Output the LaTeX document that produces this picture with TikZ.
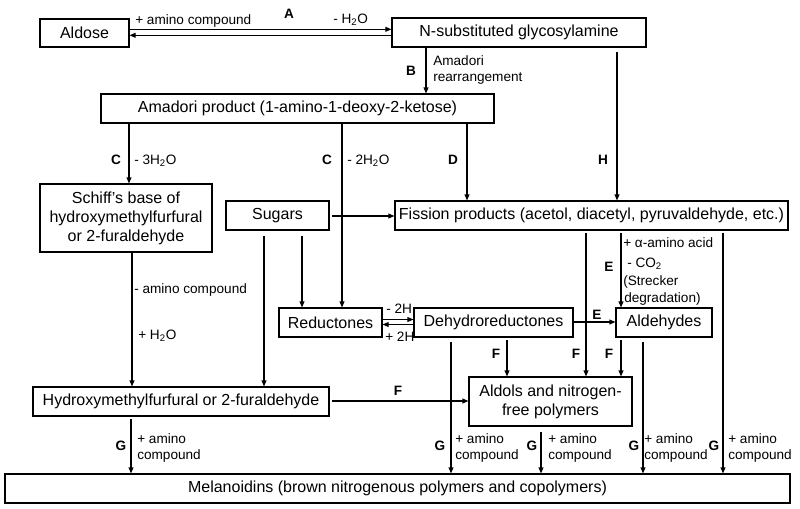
\documentclass[tikz,border=0pt]{standalone}
\usepackage{fontspec}
\setmainfont{Liberation Sans}
\usetikzlibrary{arrows.meta}
\tikzset{
 box/.style={draw, line width=0.8pt, inner sep=0pt, font=\fontsize{12}{14.3}\selectfont, align=center},
 arr/.style={line width=0.8pt, -{Triangle[length=4.5pt,width=3.6pt]}},
 lab/.style={font=\fontsize{10.2}{12}\selectfont, inner sep=0pt, anchor=base west},
 ltr/.style={font=\fontsize{10.2}{12}\selectfont\bfseries, inner sep=0pt, anchor=base},
}
\begin{document}
\begin{tikzpicture}[x=0.75pt,y=-0.75pt]
\useasboundingbox (0,0) rectangle (800,508);
% boxes
\node[box, minimum width=66.75pt, minimum height=21pt] (aldose) at (84.5,33) {Aldose};
\node[box, minimum width=190.5pt, minimum height=21.75pt] (gly) at (519,32.5) {N-substituted glycosylamine};
\node[box, minimum width=294.75pt, minimum height=21.75pt] (amadori) at (297.5,108.5) {Amadori product (1-amino-1-deoxy-2-ketose)};
\node[box, minimum width=129pt, minimum height=51pt] (schiff) at (126,218) {Schiff's base of\\hydroxymethylfurfural\\or 2-furaldehyde};
\node[box, minimum width=77.25pt, minimum height=21.75pt] (sugars) at (277.5,215.5) {Sugars};
\node[box, minimum width=294.75pt, minimum height=21.75pt] (fission) at (591.5,215.5) {Fission products (acetol, diacetyl, pyruvaldehyde, etc.)};
\node[box, minimum width=77.25pt, minimum height=21.75pt] (red) at (330.5,322.5) {Reductones};
\node[box, minimum width=119.25pt, minimum height=21.75pt] (dehyd) at (493.5,322.5) {Dehydroreductones};
\node[box, minimum width=72pt, minimum height=21.75pt] (ald) at (664,322.5) {Aldehydes};
\node[box, minimum width=122.25pt, minimum height=36.75pt] (aldols) at (550.5,401.5) {Aldols and nitrogen-\\free polymers};
\node[box, minimum width=222pt, minimum height=21.75pt] (hmf) at (181,401.5) {Hydroxymethylfurfural or 2-furaldehyde};
\node[box, minimum width=588.75pt, minimum height=21.75pt] (mel) at (397.5,488.5) {Melanoidins (brown nitrogenous polymers and copolymers)};
% connectors
\draw[arr] (aldose.east |- 0,29.3) -- (gly.west |- 0,29.3);
\draw[arr] (gly.west |- 0,35.3) -- (aldose.east |- 0,35.3);
\draw[arr] (gly.south -| 426,0) -- (amadori.north -| 426,0);
\draw[arr, shorten <=3pt] (gly.south -| 617,0) -- (fission.north -| 617,0);
\draw[arr] (amadori.south -| 129,0) -- (schiff.north -| 129,0);
\draw[arr] (amadori.south -| 342,0) -- (red.north -| 342,0);
\draw[arr] (amadori.south -| 467,0) -- (fission.north -| 467,0);
\draw[arr, shorten <=2pt] (sugars.east |- 0,216) -- (fission.west |- 0,216);
\draw[arr, shorten <=4pt] (sugars.south -| 302,0) -- (red.north -| 302,0);
\draw[arr, shorten <=4pt] (sugars.south -| 264,0) -- (hmf.north -| 264,0);
\draw[arr] (schiff.south -| 132,0) -- (hmf.north -| 132,0);
\draw[arr] (red.east |- 0,319.5) -- (dehyd.west |- 0,319.5);
\draw[arr] (dehyd.west |- 0,324.5) -- (red.east |- 0,324.5);
\draw[arr] (dehyd.east |- 0,322) -- (ald.west |- 0,322);
\draw[arr, shorten <=2pt] (fission.south -| 621,0) -- (ald.north -| 621,0);
\draw[arr, shorten <=2pt] (fission.south -| 586,0) -- (aldols.north -| 586,0);
\draw[arr, shorten <=2pt] (fission.south -| 723,0) -- (mel.north -| 723,0);
\draw[arr, shorten <=2pt] (dehyd.south -| 507,0) -- (aldols.north -| 507,0);
\draw[arr, shorten <=2pt] (ald.south -| 621,0) -- (aldols.north -| 621,0);
\draw[arr, shorten <=3pt] (dehyd.south -| 451,0) -- (mel.north -| 451,0);
\draw[arr, shorten <=4pt] (aldols.south -| 541,0) -- (mel.north -| 541,0);
\draw[arr, shorten <=3pt] (ald.south -| 643,0) -- (mel.north -| 643,0);
\draw[arr, shorten <=2pt] (hmf.east |- 0,401) -- (aldols.west |- 0,401);
\draw[arr, shorten <=2pt] (hmf.south -| 131,0) -- (mel.north -| 131,0);
% labels
\node[ltr] (lA) at (289,18) {A};
\node[lab] (lA1) at (135,24) {+ amino compound};
\node[lab] (lA2) at (333,23) {- H\textsubscript{2}O};
\node[ltr] (lB) at (411,75) {B};
\node[lab] (lB1) at (433,65) {Amadori};
\node[lab] (lB2) at (433,81) {rearrangement};
\node[ltr] (lC1) at (116,164) {C};
\node[lab] (lC1a) at (134,164) {- 3H\textsubscript{2}O};
\node[ltr] (lC2) at (327,164) {C};
\node[lab] (lC2a) at (347,164) {- 2H\textsubscript{2}O};
\node[ltr] (lD) at (453,164) {D};
\node[ltr] (lH) at (603,164) {H};
\node[lab] (lS1) at (134,293) {- amino compound};
\node[lab] (lS2) at (138,339) {+ H\textsubscript{2}O};
\node[lab] (lR1) at (386,313) {- 2H};
\node[lab] (lR2) at (385,341) {+ 2H};
\node[ltr] (lE1) at (597,319) {E};
\node[ltr] (lE2) at (609,271) {E};
\node[lab] (lE2a) at (623,247) {+ α-amino acid};
\node[lab] (lE2b) at (627,267) {- CO\textsubscript{2}};
\node[lab] (lE2c) at (623,285) {(Strecker};
\node[lab] (lE2d) at (624,302) {degradation)};
\node[ltr] (lF1) at (496,358) {F};
\node[ltr] (lF2) at (576,358) {F};
\node[ltr] (lF3) at (609,358) {F};
\node[ltr] (lF4) at (398,395) {F};
\node[ltr] (lG1) at (121,450) {G};
\node[lab] (lG1a) at (137,443) {+ amino};
\node[lab] (lG1b) at (137,459) {compound};
\node[ltr] (lG2) at (440,450) {G};
\node[lab] (lG2a) at (455,443) {+ amino};
\node[lab] (lG2b) at (455,459) {compound};
\node[ltr] (lG3) at (532,450) {G};
\node[lab] (lG3a) at (548,443) {+ amino};
\node[lab] (lG3b) at (548,459) {compound};
\node[ltr] (lG4) at (634,450) {G};
\node[lab] (lG4a) at (644,443) {+ amino};
\node[lab] (lG4b) at (644,459) {compound};
\node[ltr] (lG5) at (714,450) {G};
\node[lab] (lG5a) at (728,443) {+ amino};
\node[lab] (lG5b) at (728,459) {compound};
\end{tikzpicture}
\end{document}
